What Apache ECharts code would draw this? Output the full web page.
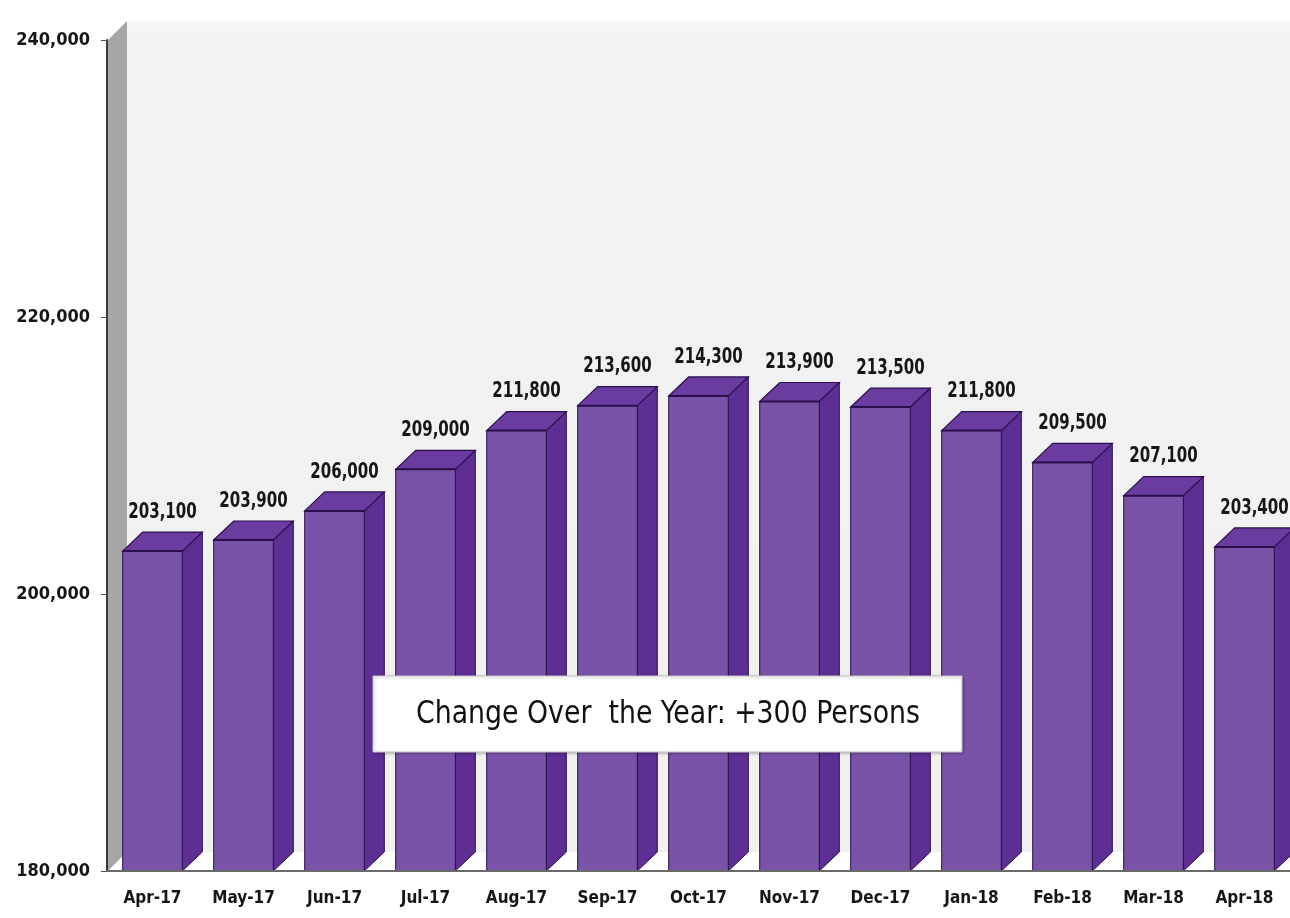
<!DOCTYPE html>
<html>
<head>
<meta charset="utf-8">
<script src="https://cdn.jsdelivr.net/npm/echarts@6/dist/echarts.min.js"></script>
<style>
html,body{margin:0;padding:0;background:#fff;}
#chart{width:1290px;height:918px;}
</style>
</head>
<body>
<div id="chart"></div>
<script>
// ---- data ----
var categories = ['Apr-17','May-17','Jun-17','Jul-17','Aug-17','Sep-17','Oct-17','Nov-17','Dec-17','Jan-18','Feb-18','Mar-18','Apr-18'];
var employment = [203100,203900,206000,209000,211800,213600,214300,213900,213500,211800,209500,207100,203400];
var yMin = 180000;
var yMax = 240000;
var yStep = 20000;
var noteText = 'Change Over  the Year: +300 Persons';

// ---- style ----
var FONT = '"DejaVu Sans Condensed","Liberation Sans Narrow",sans-serif';
var FRONT = '#7953a8';
var SIDE = '#5d2e94';
var TOP = '#6a3c9f';
var EDGE = '#2a0f4c';
var DX = 20, DY = 19;

function fmt(n){ return n.toString().replace(/\B(?=(\d{3})+(?!\d))/g, ','); }

var chart = echarts.init(document.getElementById('chart'), null, {renderer:'canvas'});

function renderWalls(params, api){
  var cs = params.coordSys;
  var left = cs.x, top = cs.y, right = cs.x + cs.width, bottom = cs.y + cs.height;
  return {type:'group', children:[
    {type:'rect', shape:{x:left+DX, y:top-DY, width:right-left-DX+30, height:bottom-top},
     style:{fill:{type:'linear', x:0, y:0, x2:0, y2:1, colorStops:[{offset:0, color:'#f8f8f8'}, {offset:0.02, color:'#f2f2f2'}, {offset:1, color:'#f1f1f1'}]}}},
    {type:'polygon', shape:{points:[[left+1,top],[left+DX,top-DY],[left+DX,bottom-DY],[left+1,bottom]]}, style:{fill:'#a6a6a6'}},
    {type:'polygon', shape:{points:[[left+1,bottom],[left+DX,bottom-DY],[right+30,bottom-DY],[right+30,bottom]]}, style:{fill:'#ffffff'}}
  ]};
}

function renderBar(params, api){
  var i = api.value(0), v = api.value(1);
  var top = api.coord([i, v]);
  var base = api.coord([i, yMin]);
  var band = api.size([1, 0])[0];
  var w = band * 0.655;
  var x0 = top[0] - w/2, x1 = top[0] + w/2;
  var yt = top[1], yb = base[1];
  return {type:'group', children:[
    {type:'polygon', shape:{points:[[x1,yt],[x1+DX,yt-DY],[x1+DX,yb-DY],[x1,yb]]}, style:{fill:SIDE, stroke:EDGE, lineWidth:1}},
    {type:'polygon', shape:{points:[[x0,yt],[x0+DX,yt-DY],[x1+DX,yt-DY],[x1,yt]]}, style:{fill:TOP, stroke:EDGE, lineWidth:1.2}},
    {type:'rect', shape:{x:x0, y:yt, width:w, height:yb-yt}, style:{fill:FRONT, stroke:EDGE, lineWidth:1}},
    {type:'line', shape:{x1:x0, y1:yt, x2:x1, y2:yt}, style:{stroke:EDGE, lineWidth:2}},
    {type:'text', x:top[0] + DX/2, y:yt - DY - 20, scaleX:0.76,
     style:{text:fmt(v), x:0, y:0, align:'center', verticalAlign:'middle', font:'bold 22px ' + FONT, fill:'#161616'}}
  ]};
}

var option = {
  backgroundColor:'#ffffff',
  animation:false,
  grid:{left:107, right:0, top:40, bottom:47, containLabel:false},
  xAxis:{
    type:'category', data:categories, z:5,
    axisLine:{show:true, lineStyle:{color:'#6a6a6a', width:2}},
    axisTick:{show:false},
    axisLabel:{interval:0, margin:19, fontFamily:FONT, fontWeight:'bold', fontSize:17, color:'#161616'}
  },
  yAxis:{
    type:'value', min:yMin, max:yMax, interval:yStep, z:5,
    axisLine:{show:true, lineStyle:{color:'#3a3a3a', width:2}},
    axisTick:{show:true, length:6, lineStyle:{color:'#555'}},
    splitLine:{show:false},
    axisLabel:{margin:17, fontFamily:FONT, fontWeight:'bold', fontSize:18, color:'#161616', formatter:function(v){return fmt(v);}}
  },
  series:[
    {type:'custom', z:1, clip:false, renderItem:renderWalls, data:[[0, yMin]], silent:true},
    {type:'custom', z:2, clip:false, renderItem:renderBar, encode:{x:0, y:1},
     data:categories.map(function(c, k){ return [k, employment[k]]; })}
  ],
  graphic:{elements:[
    {type:'rect', z:100, shape:{x:373, y:676, width:589, height:76}, style:{fill:'#ffffff', stroke:'#c8c8c8', lineWidth:1, shadowBlur:3, shadowColor:'rgba(0,0,0,0.25)', shadowOffsetX:1, shadowOffsetY:1}},
    {type:'text', z:101, x:668, y:715, scaleX:0.93, style:{text:noteText, x:0, y:0, align:'center', verticalAlign:'middle', font:'32px ' + FONT, fill:'#111'}}
  ]}
};
chart.setOption(option);
</script>
</body>
</html>
